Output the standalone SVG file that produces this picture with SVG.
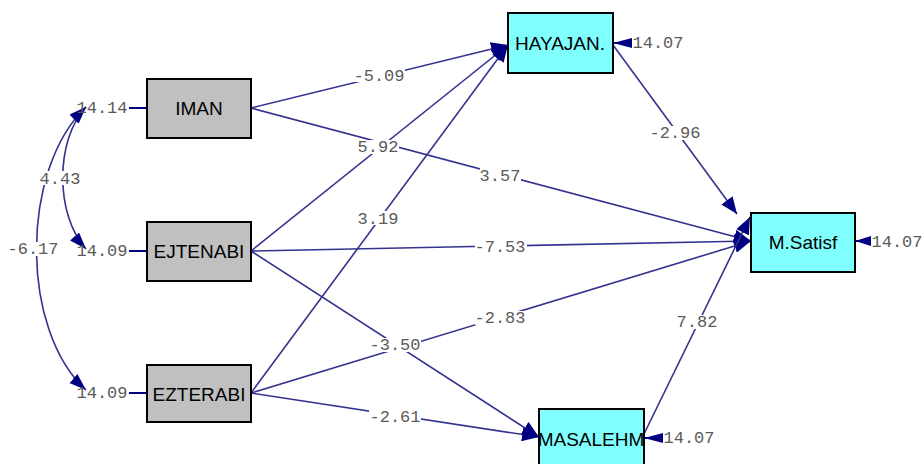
<svg xmlns="http://www.w3.org/2000/svg" width="923" height="464" viewBox="0 0 923 464">
<style>
.obs rect{fill:#c0c0c0;stroke:#000;stroke-width:2}
.lat rect{fill:#80ffff;stroke:#000;stroke-width:2}
.nt{font-family:"Liberation Sans",Arial,sans-serif;font-size:19px;fill:#000;text-anchor:middle}
.lbl{font-family:"Liberation Mono","Courier New",monospace;font-size:17px;fill:#5a5a5a;text-anchor:middle}
.bg{fill:#fff}
.c{stroke:#33338f;stroke-width:1.6;fill:none}
.e{stroke:#000080;stroke-width:2;fill:none}
.h{fill:#000080}
</style>
<defs>
<marker id="ah" markerUnits="userSpaceOnUse" markerWidth="18" markerHeight="14" refX="17" refY="7" orient="auto">
<path d="M0,0 L17,7 L0,14 z" fill="#000080"/>
</marker>
<marker id="ac" markerUnits="userSpaceOnUse" markerWidth="18" markerHeight="14" refX="17" refY="6" orient="auto-start-reverse">
<path d="M0,0 L17,6 L0,12 z" fill="#000080"/>
</marker>
</defs>
<rect width="923" height="464" fill="#fff"/>
<g id="connectors">
<line class="c" x1="251" y1="108" x2="508" y2="45" marker-end="url(#ah)"/>
<line class="c" x1="251" y1="108" x2="751" y2="241" marker-end="url(#ah)"/>
<line class="c" x1="251" y1="251" x2="508" y2="45" marker-end="url(#ah)"/>
<line class="c" x1="251" y1="251" x2="751" y2="241" marker-end="url(#ah)"/>
<line class="c" x1="251" y1="251" x2="539" y2="437" marker-end="url(#ah)"/>
<line class="c" x1="251" y1="393" x2="508" y2="45" marker-end="url(#ah)"/>
<line class="c" x1="251" y1="393" x2="751" y2="241" marker-end="url(#ah)"/>
<line class="c" x1="251" y1="393" x2="539" y2="437" marker-end="url(#ah)"/>
<line class="c" x1="613" y1="45" x2="737" y2="214" marker-end="url(#ah)"/>
<line class="c" x1="644" y1="434" x2="750" y2="217" marker-end="url(#ah)"/>
<path class="c" d="M86,107 C55,140 55,215 86,249" marker-start="url(#ac)" marker-end="url(#ac)"/>
<path class="c" d="M86,107 C20,170 20,330 86,390" marker-start="url(#ac)" marker-end="url(#ac)"/>
<line class="e" x1="129" y1="108" x2="147" y2="108"/>
<line class="e" x1="129" y1="251" x2="147" y2="251"/>
<line class="e" x1="129" y1="393" x2="147" y2="393"/>
<line class="e" x1="613" y1="43" x2="632" y2="43"/>
<polygon class="h" points="613,43 632,38 632,48"/>
<line class="e" x1="855" y1="241" x2="871" y2="241"/>
<polygon class="h" points="855,241 871,236 871,246"/>
<line class="e" x1="644" y1="438" x2="663" y2="438"/>
<polygon class="h" points="644,438 663,433 663,443"/>
</g>
<g id="labels">
<rect class="bg" x="353" y="68" width="52" height="14"/><text class="lbl" x="379" y="81">-5.09</text>
<rect class="bg" x="358" y="140" width="41" height="14"/><text class="lbl" x="378" y="152">5.92</text>
<rect class="bg" x="480" y="168" width="41" height="14"/><text class="lbl" x="500" y="181">3.57</text>
<rect class="bg" x="358" y="211" width="41" height="14"/><text class="lbl" x="378" y="224">3.19</text>
<rect class="bg" x="475" y="240" width="52" height="14"/><text class="lbl" x="500" y="252">-7.53</text>
<rect class="bg" x="475" y="311" width="52" height="14"/><text class="lbl" x="500" y="323">-2.83</text>
<rect class="bg" x="369" y="338" width="52" height="14"/><text class="lbl" x="395" y="350">-3.50</text>
<rect class="bg" x="369" y="410" width="52" height="14"/><text class="lbl" x="395" y="422">-2.61</text>
<rect class="bg" x="649" y="126" width="52" height="14"/><text class="lbl" x="675" y="138">-2.96</text>
<rect class="bg" x="676" y="315" width="41" height="14"/><text class="lbl" x="697" y="327">7.82</text>
<rect class="bg" x="40" y="171" width="41" height="14"/><text class="lbl" x="60" y="184">4.43</text>
<rect class="bg" x="7" y="242" width="52" height="14"/><text class="lbl" x="33" y="254">-6.17</text>
<text class="lbl" x="102" y="113">14.14</text>
<text class="lbl" x="102" y="256">14.09</text>
<text class="lbl" x="102" y="398">14.09</text>
<text class="lbl" x="658" y="48">14.07</text>
<text class="lbl" x="897" y="247">14.07</text>
<text class="lbl" x="689" y="443">14.07</text>
</g>
<g id="IMAN" class="obs"><rect x="147" y="79" width="104" height="59"/><text class="nt" x="199" y="115">IMAN</text></g>
<g id="EJTENABI" class="obs"><rect x="147" y="222" width="104" height="59"/><text class="nt" x="199" y="258">EJTENABI</text></g>
<g id="EZTERABI" class="obs"><rect x="147" y="365" width="104" height="57"/><text class="nt" x="199" y="401">EZTERABI</text></g>
<g id="HAYAJAN" class="lat"><rect x="508" y="13" width="105" height="60"/><text class="nt" x="560" y="50">HAYAJAN.</text></g>
<g id="MSatisf" class="lat"><rect x="751" y="213" width="104" height="59"/><text class="nt" x="803" y="249">M.Satisf</text></g>
<g id="MASALEHM" class="lat"><rect x="539" y="409" width="105" height="60"/><text class="nt" x="591" y="446">MASALEHM</text></g>
</svg>
